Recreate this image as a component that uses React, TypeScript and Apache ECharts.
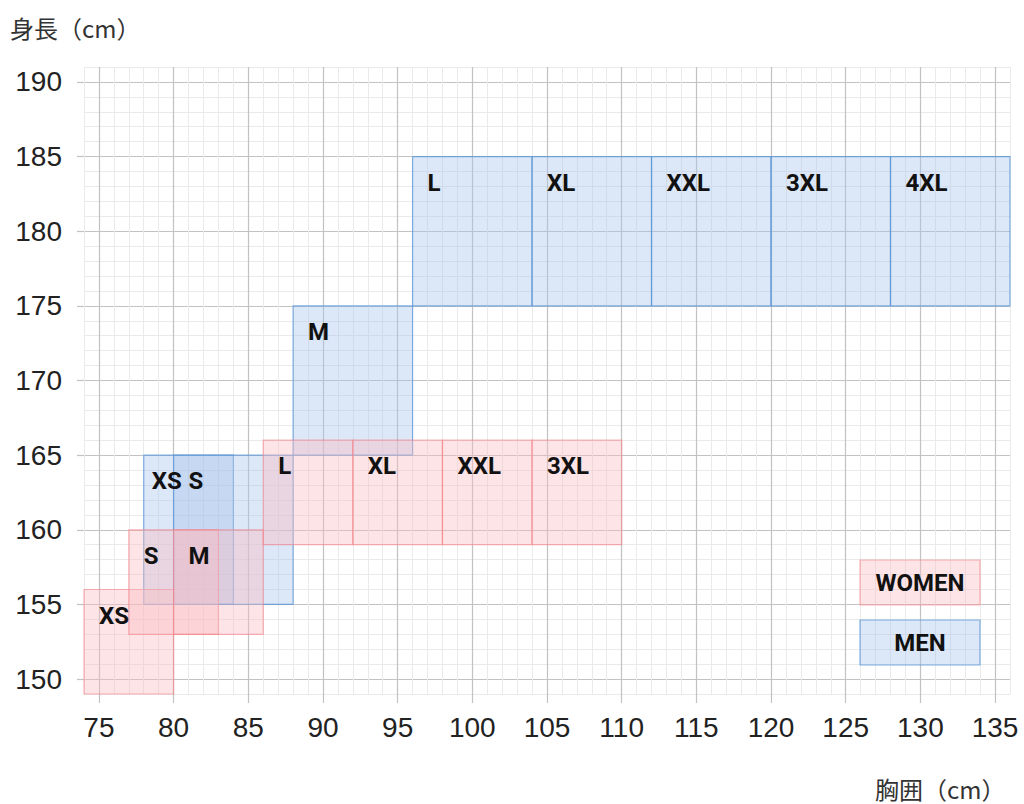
import React, { useEffect, useRef } from "react";
import * as echarts from "echarts";

// ---- data ----
const xTicks = [75, 80, 85, 90, 95, 100, 105, 110, 115, 120, 125, 130, 135];
const yTicks = [150, 155, 160, 165, 170, 175, 180, 185, 190];

const womenSizes = ["XS", "S", "M", "L", "XL", "XXL", "3XL"];
const womenChestMin = [74, 77, 80, 86, 92, 98, 104];
const womenChestMax = [80, 83, 86, 92, 98, 104, 110];
const womenHeightMin = [149, 153, 153, 159, 159, 159, 159];
const womenHeightMax = [156, 160, 160, 166, 166, 166, 166];

const menSizes = ["XS", "S", "M", "L", "XL", "XXL", "3XL", "4XL"];
const menChestMin = [78, 80, 88, 96, 104, 112, 120, 128];
const menChestMax = [84, 88, 96, 104, 112, 120, 128, 136];
const menHeightMin = [155, 155, 165, 175, 175, 175, 175, 175];
const menHeightMax = [165, 165, 175, 185, 185, 185, 185, 185];

const legendLabels = ["WOMEN", "MEN"];
const yName = "身長（cm）";
const xName = "胸囲（cm）";

// ---- styles ----
const WOMEN_FILL = "rgba(250, 187, 192, 0.4)";
const WOMEN_STROKE = "rgba(245, 120, 130, 0.55)";
const MEN_FILL = "rgba(168, 196, 234, 0.4)";
const MEN_STROKE = "rgba(80, 145, 215, 0.7)";
const MAJOR = "#C2C2C2";
const MINOR = "#EAEAEA";
const LABEL_FONT = "bold 24px Roboto, 'DejaVu Sans', sans-serif";
const TICK_FONT = "'Liberation Sans', Arial, sans-serif";
const NAME_FONT = "24px 'Noto Sans CJK JP', sans-serif";

function buildData(mins: number[], maxs: number[], hmins: number[], hmaxs: number[]) {
  return mins.map((m, i) => [m, maxs[i], hmins[i], hmaxs[i]]);
}

function makeSeries(
  id: string,
  names: string[],
  data: number[][],
  fill: string,
  stroke: string,
  shifts: Record<string, number>
) {
  return {
    type: "custom",
    id,
    xAxisIndex: 0,
    yAxisIndex: 0,
    encode: { x: [0, 1], y: [2, 3] },
    data,
    clip: false,
    renderItem: (params: any, api: any) => {
      const x0 = api.value(0);
      const x1 = api.value(1);
      const y0 = api.value(2);
      const y1 = api.value(3);
      const tl = api.coord([x0, y1]);
      const br = api.coord([x1, y0]);
      const name = names[params.dataIndex];
      const dx = shifts[name] !== undefined ? shifts[name] : 15;
      return {
        type: "group",
        children: [
          {
            type: "rect",
            shape: { x: tl[0], y: tl[1], width: br[0] - tl[0], height: br[1] - tl[1] },
            style: { fill, stroke, lineWidth: 1.2 },
          },
          {
            type: "text",
            x: tl[0] + dx,
            y: tl[1] + 26,
            z2: 10,
            style: {
              text: name,
              fill: "#111",
              font: LABEL_FONT,
              align: "left",
              verticalAlign: "middle",
            },
          },
        ],
      };
    },
  };
}

export default function App() {
  const ref = useRef<HTMLDivElement>(null);

  useEffect(() => {
    if (!ref.current) return;
    const chart = echarts.init(ref.current, undefined, { renderer: "svg" });

    const option: any = {
      animation: false,
      backgroundColor: "#ffffff",
      grid: {
        left: 84,
        top: 67,
        right: 14,
        bottom: 110,
        containLabel: false,
        outerBoundsMode: "none",
      },
      xAxis: [
        {
          type: "value",
          position: "bottom",
          min: 74,
          max: 136,
          interval: 1,
          axisLine: { show: false },
          axisTick: { show: false },
          axisLabel: { show: false },
          splitLine: { show: true, lineStyle: { color: MINOR, width: 1 } },
        },
        {
          type: "value",
          position: "bottom",
          min: 74,
          max: 136,
          axisLine: { show: false },
          axisTick: {
            show: true,
            customValues: xTicks,
            length: 9,
            lineStyle: { color: MAJOR, width: 1.2 },
          },
          axisLabel: {
            show: true,
            customValues: xTicks,
            margin: 19,
            fontSize: 28,
            color: "#222",
            fontFamily: TICK_FONT,
          },
          splitLine: { show: true, lineStyle: { color: MAJOR, width: 1.2 } },
        },
      ],
      yAxis: [
        {
          type: "value",
          position: "left",
          min: 149,
          max: 191,
          interval: 1,
          axisLine: { show: false },
          axisTick: { show: false },
          axisLabel: { show: false },
          splitLine: { show: true, lineStyle: { color: MINOR, width: 1 } },
        },
        {
          type: "value",
          position: "left",
          min: 149,
          max: 191,
          axisLine: { show: false },
          axisTick: {
            show: true,
            customValues: yTicks,
            length: 7,
            lineStyle: { color: MAJOR, width: 1.2 },
          },
          axisLabel: {
            show: true,
            customValues: yTicks,
            margin: 22,
            fontSize: 28,
            color: "#222",
            fontFamily: TICK_FONT,
          },
          splitLine: { show: true, lineStyle: { color: MAJOR, width: 1.2 } },
        },
      ],
      series: [
        makeSeries(
          "men",
          menSizes,
          buildData(menChestMin, menChestMax, menHeightMin, menHeightMax),
          MEN_FILL,
          MEN_STROKE,
          { XS: 8 }
        ),
        makeSeries(
          "women",
          womenSizes,
          buildData(womenChestMin, womenChestMax, womenHeightMin, womenHeightMax),
          WOMEN_FILL,
          WOMEN_STROKE,
          {}
        ),
      ],
      graphic: [
        {
          type: "text",
          x: 10,
          y: 27,
          z: 100,
          style: {
            text: yName,
            fill: "#333",
            font: NAME_FONT,
            align: "left",
            verticalAlign: "middle",
          },
        },
        {
          type: "text",
          x: 875,
          y: 788,
          z: 100,
          style: {
            text: xName,
            fill: "#333",
            font: NAME_FONT,
            align: "left",
            verticalAlign: "middle",
          },
        },
        {
          type: "rect",
          z: 100,
          shape: { x: 860, y: 560, width: 120, height: 45 },
          style: { fill: WOMEN_FILL, stroke: WOMEN_STROKE, lineWidth: 1.2 },
        },
        {
          type: "text",
          z: 101,
          x: 920,
          y: 583,
          style: {
            text: legendLabels[0],
            fill: "#111",
            font: LABEL_FONT,
            align: "center",
            verticalAlign: "middle",
          },
        },
        {
          type: "rect",
          z: 100,
          shape: { x: 860, y: 620, width: 120, height: 45 },
          style: { fill: MEN_FILL, stroke: MEN_STROKE, lineWidth: 1.2 },
        },
        {
          type: "text",
          z: 101,
          x: 920,
          y: 643,
          style: {
            text: legendLabels[1],
            fill: "#111",
            font: LABEL_FONT,
            align: "center",
            verticalAlign: "middle",
          },
        },
      ],
    };

    chart.setOption(option);
    return () => {
      chart.dispose();
    };
  }, []);

  return (
    <div
      ref={ref}
      style={{ position: "absolute", left: 0, top: 0, width: 1024, height: 804 }}
    />
  );
}
